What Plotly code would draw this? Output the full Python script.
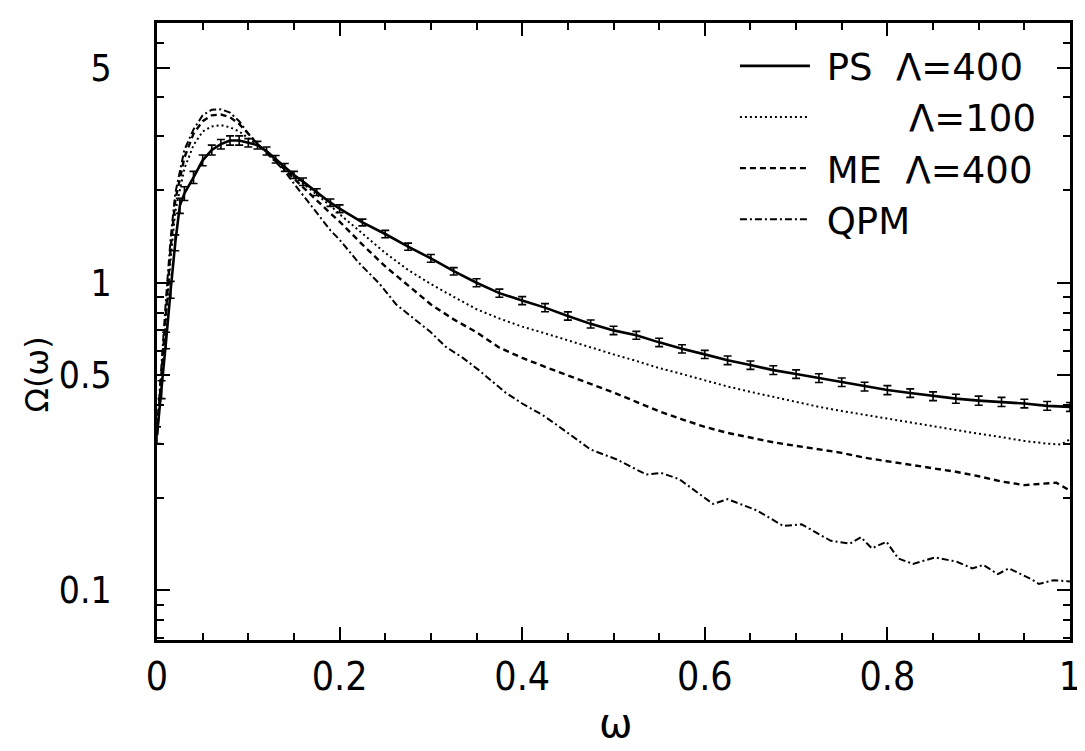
import plotly.graph_objects as go

# ---------------- data ----------------
ps_w = [0, 0.005, 0.01, 0.015, 0.02, 0.025, 0.03, 0.04, 0.05, 0.06, 0.07, 0.08, 0.09, 0.1,
        0.11, 0.12, 0.13, 0.14, 0.15, 0.16, 0.175, 0.19, 0.2, 0.225, 0.25, 0.275, 0.3,
        0.325, 0.35, 0.375, 0.4, 0.425, 0.45, 0.475, 0.5, 0.525, 0.55, 0.575, 0.6, 0.625,
        0.65, 0.675, 0.7, 0.725, 0.75, 0.775, 0.8, 0.825, 0.85, 0.875, 0.9, 0.925, 0.95,
        0.975, 1.0]
ps_val = [0.32, 0.45, 0.65, 0.95, 1.35, 1.78, 1.95, 2.2, 2.5, 2.7, 2.82, 2.9, 2.9, 2.85,
          2.8, 2.68, 2.52, 2.37, 2.24, 2.13, 1.97, 1.82, 1.74, 1.57, 1.44, 1.31, 1.2,
          1.09, 1.0, 0.925, 0.875, 0.83, 0.78, 0.735, 0.70, 0.675, 0.64, 0.61, 0.585, 0.56,
          0.54, 0.52, 0.505, 0.49, 0.475, 0.46, 0.448, 0.438, 0.428, 0.42, 0.414, 0.41, 0.405,
          0.398, 0.395]
ps_err = [0.02, 0.03, 0.04, 0.06, 0.08, 0.1, 0.1, 0.1, 0.1, 0.1, 0.1, 0.1, 0.1, 0.09,
          0.08, 0.08, 0.07, 0.07, 0.06, 0.06, 0.05, 0.05, 0.05, 0.04, 0.04, 0.035, 0.035,
          0.03, 0.03, 0.028, 0.026, 0.025, 0.024, 0.022, 0.022, 0.02, 0.02, 0.019, 0.018, 0.018,
          0.017, 0.017, 0.016, 0.016, 0.015, 0.015, 0.015, 0.014, 0.014, 0.014, 0.014, 0.014,
          0.013, 0.013, 0.013]

l100_w = [0, 0.005, 0.01, 0.015, 0.02, 0.03, 0.04, 0.05, 0.06, 0.07, 0.08, 0.09, 0.1, 0.11,
          0.12, 0.13, 0.14, 0.15, 0.16, 0.175, 0.19, 0.2, 0.225, 0.25, 0.275, 0.3, 0.325,
          0.35, 0.375, 0.4, 0.425, 0.45, 0.475, 0.5, 0.525, 0.55, 0.575, 0.6, 0.625, 0.65,
          0.675, 0.7, 0.725, 0.75, 0.775, 0.8, 0.825, 0.85, 0.875, 0.9, 0.925, 0.95, 0.975,
          0.99, 1.0]
l100_val = [0.32, 0.5, 0.8, 1.2, 1.7, 2.35, 2.8, 3.1, 3.22, 3.25, 3.2, 3.1, 2.95, 2.8,
            2.66, 2.5, 2.35, 2.22, 2.1, 1.93, 1.78, 1.67, 1.45, 1.25, 1.1, 0.99, 0.9,
            0.82, 0.765, 0.72, 0.685, 0.65, 0.615, 0.585, 0.557, 0.528, 0.505, 0.482, 0.46, 0.442,
            0.425, 0.41, 0.395, 0.383, 0.372, 0.362, 0.352, 0.342, 0.332, 0.323, 0.315, 0.306, 0.30,
            0.298, 0.31]

me_w = [0, 0.005, 0.01, 0.015, 0.02, 0.03, 0.04, 0.05, 0.06, 0.07, 0.08, 0.09, 0.1, 0.11,
        0.12, 0.13, 0.14, 0.15, 0.16, 0.175, 0.19, 0.2, 0.225, 0.25, 0.275, 0.3, 0.325,
        0.35, 0.375, 0.4, 0.425, 0.45, 0.475, 0.5, 0.525, 0.55, 0.575, 0.6, 0.625, 0.65,
        0.675, 0.7, 0.725, 0.75, 0.775, 0.8, 0.825, 0.85, 0.875, 0.9, 0.925, 0.95, 0.975,
        0.985, 1.0]
me_val = [0.32, 0.52, 0.85, 1.3, 1.85, 2.55, 3.05, 3.35, 3.5, 3.52, 3.45, 3.28, 3.05, 2.82,
          2.65, 2.49, 2.33, 2.18, 2.04, 1.85, 1.68, 1.58, 1.33, 1.13, 0.98, 0.85, 0.76,
          0.69, 0.615, 0.57, 0.533, 0.50, 0.468, 0.44, 0.41, 0.382, 0.36, 0.34, 0.325, 0.313,
          0.303, 0.295, 0.288, 0.28, 0.27, 0.263, 0.257, 0.25, 0.243, 0.235, 0.226, 0.22, 0.223,
          0.224, 0.211]

qpm_w = [0, 0.005, 0.01, 0.015, 0.02, 0.03, 0.04, 0.05, 0.06, 0.07, 0.08, 0.09, 0.1, 0.11,
         0.12, 0.13, 0.14, 0.15, 0.16, 0.175, 0.19, 0.2, 0.21, 0.22, 0.244, 0.262, 0.28,
         0.3, 0.316, 0.335, 0.3525, 0.37, 0.3815, 0.4, 0.422, 0.435, 0.45, 0.475, 0.503,
         0.536, 0.552, 0.572, 0.609, 0.625, 0.657, 0.686, 0.706, 0.738, 0.759, 0.771, 0.783,
         0.799, 0.812, 0.828, 0.852, 0.876, 0.893, 0.905, 0.921, 0.933, 0.957, 0.966, 0.982,
         1.0]
qpm_val = [0.33, 0.55, 0.9, 1.4, 1.95, 2.7, 3.15, 3.5, 3.65, 3.66, 3.57, 3.35, 3.05, 2.83,
           2.64, 2.47, 2.3, 2.1, 1.92, 1.68, 1.48, 1.38, 1.27, 1.17, 0.99, 0.85, 0.77,
           0.69, 0.62, 0.57, 0.52, 0.47, 0.44, 0.405, 0.372, 0.35, 0.325, 0.287, 0.267,
           0.238, 0.241, 0.23, 0.191, 0.198, 0.182, 0.162, 0.164, 0.145, 0.142, 0.149, 0.137,
           0.144, 0.127, 0.122, 0.128, 0.124, 0.118, 0.121, 0.113, 0.118, 0.109, 0.105, 0.108,
           0.107]

x_ticks = [0, 0.2, 0.4, 0.6, 0.8, 1]
x_tick_text = ["0", "0.2", "0.4", "0.6", "0.8", "1"]
y_ticks = [0.1, 0.5, 1, 5]
y_tick_text = ["0.1", "0.5", "1", "5"]
y_minor = [0.07, 0.08, 0.09, 0.2, 0.3, 0.4, 0.6, 0.7, 0.8, 0.9, 2, 3, 4, 6]

NB = "\u00a0"
series_names = [NB + "PS" + NB * 2 + "Λ=400",
                NB * 8 + "Λ=100",
                NB + "ME" + NB * 2 + "Λ=400",
                NB + "QPM"]

TICK_FONT = "Liberation Sans Narrow, DejaVu Sans Condensed, Liberation Sans, sans-serif"
LEG_FONT = "DejaVu Sans, Liberation Sans, sans-serif"

fig = go.Figure()
fig.add_trace(go.Scatter(
    x=ps_w, y=ps_val, mode="lines", name=series_names[0],
    line=dict(color="black", width=2.6),
    error_y=dict(type="data", array=ps_err, color="black", thickness=1.6, width=4),
))
fig.add_trace(go.Scatter(
    x=l100_w, y=l100_val, mode="lines", name=series_names[1],
    line=dict(color="black", width=2, dash="2px,3px"),
))
fig.add_trace(go.Scatter(
    x=me_w, y=me_val, mode="lines", name=series_names[2],
    line=dict(color="black", width=2.4, dash="6px,4px"),
))
fig.add_trace(go.Scatter(
    x=qpm_w, y=qpm_val, mode="lines", name=series_names[3],
    line=dict(color="black", width=2, dash="7px,3px,2px,3px"),
))

axis_common = dict(
    showline=True, linecolor="black", linewidth=2.8, mirror="allticks",
    ticks="inside", ticklen=13, tickwidth=2, tickcolor="black",
    showgrid=False, zeroline=False,
)

fig.update_xaxes(
    range=[0, 1], tickmode="array", tickvals=x_ticks, ticktext=x_tick_text,
    minor=dict(dtick=0.05, ticks="inside", ticklen=7, tickwidth=1.5, tickcolor="black",
               showgrid=False),
    tickfont=dict(family=TICK_FONT, size=39, color="black"),
    **axis_common,
)
fig.update_yaxes(
    type="log", range=[-1.161, 0.844], tickmode="array", tickvals=y_ticks,
    ticktext=y_tick_text,
    minor=dict(tickvals=y_minor, ticks="inside", ticklen=7, tickwidth=1.5,
               tickcolor="black", showgrid=False),
    ticklabelstandoff=35,
    tickfont=dict(family=TICK_FONT, size=37, color="black"),
    **axis_common,
)

fig.add_annotation(
    text="Ω(ω)", textangle=-90, xref="paper", yref="paper",
    x=-0.131, y=0.431, xanchor="center", yanchor="middle", showarrow=False,
    font=dict(family=LEG_FONT, size=32, color="black"),
)
fig.add_annotation(
    text="ω", xref="paper", yref="paper",
    x=0.503, y=-0.135, xanchor="center", yanchor="middle", showarrow=False,
    font=dict(family=LEG_FONT, size=40, color="black"),
)

fig.update_layout(
    width=1085, height=751,
    margin=dict(l=149, r=15, t=12, b=119),
    paper_bgcolor="white", plot_bgcolor="white",
    showlegend=True,
    legend=dict(
        x=0.633, y=0.98, xanchor="left", yanchor="top",
        bgcolor="rgba(0,0,0,0)", borderwidth=0,
        font=dict(family=LEG_FONT, size=37, color="black"),
        itemwidth=70, tracegroupgap=0,
    ),
)

fig.write_html("out.html")
